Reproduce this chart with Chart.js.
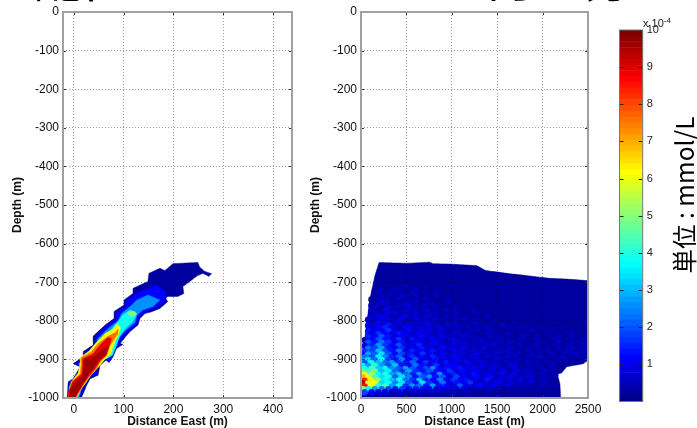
<!DOCTYPE html>
<html>
<head>
<meta charset="utf-8">
<script src="https://cdn.jsdelivr.net/npm/chart.js@4"></script>
<style>
  html, body { margin: 0; padding: 0; background: #fff; width: 697px; height: 428px; overflow: hidden; }
  canvas { position: absolute; top: 0; filter: blur(0.4px); }
  #title { position: absolute; left: 33px; top: -50px; font: 50px/50px "Noto Sans CJK JP"; white-space: nowrap; color: #000; }
  #unit { position: absolute; left: 683px; top: 195px; font: 24.5px "Noto Sans CJK JP"; white-space: nowrap; color: #000;
          transform: translate(-50%, -50%) rotate(-90deg); }
  #exponent { position: absolute; left: 643px; top: 17px; font: 11px "Liberation Sans"; color: #222; white-space: nowrap; }
  #exponent sup { font-size: 8px; vertical-align: 4px; line-height: 0; }
</style>
</head>
<body>
<div id="title">配置するとどうなり何か分かるか</div>
<canvas id="leftChart" width="300" height="428" style="left:0"></canvas>
<canvas id="rightChart" width="305" height="428" style="left:298px"></canvas>
<canvas id="barChart" width="70" height="428" style="left:600px"></canvas>
<div id="exponent">x 10<sup>-4</sup></div>
<div id="unit">単位 : mmol/L</div>

<script>
// tick labels
const depthTicks = [0, -100, -200, -300, -400, -500, -600, -700, -800, -900, -1000];
const leftDistanceTicks = [0, 100, 200, 300, 400];
const rightDistanceTicks = [0, 500, 1000, 1500, 2000, 2500];
const colorbarTicks = [1, 2, 3, 4, 5, 6, 7, 8, 9, 10];

// jet colormap, 64 steps, as in the colorbar
const jetColors = [
  '#00008F','#00009F','#0000AF','#0000BF','#0000CF','#0000DF','#0000EF','#0000FF',
  '#0010FF','#0020FF','#0030FF','#0040FF','#0050FF','#0060FF','#0070FF','#0080FF',
  '#008FFF','#009FFF','#00AFFF','#00BFFF','#00CFFF','#00DFFF','#00EFFF','#00FFFF',
  '#10FFEF','#20FFDF','#30FFCF','#40FFBF','#50FFAF','#60FF9F','#70FF8F','#80FF80',
  '#8FFF70','#9FFF60','#AFFF50','#BFFF40','#CFFF30','#DFFF20','#EFFF10','#FFFF00',
  '#FFEF00','#FFDF00','#FFCF00','#FFBF00','#FFAF00','#FF9F00','#FF8F00','#FF8000',
  '#FF7000','#FF6000','#FF5000','#FF4000','#FF3000','#FF2000','#FF1000','#FF0000',
  '#EF0000','#DF0000','#CF0000','#BF0000','#AF0000','#9F0000','#8F0000','#800000'
];
const colorbarEdges = [
  0, 0.16, 0.31, 0.47, 0.63, 0.78, 0.94, 1.09, 1.25, 1.41, 1.56, 1.72, 1.88, 2.03, 2.19, 2.34,
  2.5, 2.66, 2.81, 2.97, 3.13, 3.28, 3.44, 3.59, 3.75, 3.91, 4.06, 4.22, 4.38, 4.53, 4.69, 4.84,
  5, 5.16, 5.31, 5.47, 5.63, 5.78, 5.94, 6.09, 6.25, 6.41, 6.56, 6.72, 6.88, 7.03, 7.19, 7.34,
  7.5, 7.66, 7.81, 7.97, 8.13, 8.28, 8.44, 8.59, 8.75, 8.91, 9.06, 9.22, 9.38, 9.53, 9.69, 9.84, 10
];

// left panel: contour outlines [distance, depth], outermost first
const leftLevels = [0.2, 0.7, 1.2, 2.5, 3.8, 5, 6.2, 7.5, 9, 9.6];
const leftOutline = [[199,-652],[249,-649],[253,-661],[263,-672],[277,-678],[271,-685],[259,-677],[246,-685],[233,-698],[219,-711],[221,-729],[209,-737],[189,-737],[183,-742],[189,-750],[173,-768],[153,-778],[143,-781],[133,-794],[129,-811],[113,-828],[103,-843],[93,-859],[99,-861],[86,-872],[79,-893],[71,-908],[65,-902],[53,-915],[49,-941],[33,-950],[26,-967],[19,-989],[15,-1000],[-13,-1000],[-11,-958],[-1,-950],[13,-919],[-1,-911],[19,-893],[19,-880],[39,-863],[39,-840],[63,-811],[81,-794],[81,-776],[101,-759],[101,-746],[119,-729],[119,-716],[149,-698],[151,-677],[173,-664],[183,-670]];
const leftPatch = [[153,-707],[173,-710],[179,-724],[166,-733],[153,-724]];
const leftBlue = [[166,-707],[183,-724],[186,-746],[166,-765],[146,-776],[131,-789],[127,-808],[109,-827],[99,-841],[89,-859],[94,-861],[83,-870],[76,-892],[71,-904],[65,-898],[49,-911],[46,-937],[31,-945],[23,-967],[15,-989],[11,-1000],[-11,-1000],[-9,-963],[1,-954],[14,-919],[5,-911],[23,-895],[23,-883],[43,-867],[43,-843],[66,-814],[83,-798],[84,-781],[103,-763],[105,-748],[123,-733],[133,-724],[153,-716]];
const leftAzure = [[149,-733],[173,-746],[159,-763],[139,-772],[127,-785],[123,-805],[105,-824],[94,-840],[85,-857],[79,-867],[73,-889],[67,-898],[59,-895],[46,-906],[41,-932],[27,-944],[18,-967],[13,-989],[9,-1000],[-10,-1000],[-7,-967],[3,-956],[17,-919],[9,-912],[27,-895],[27,-886],[47,-869],[47,-848],[69,-820],[89,-800],[96,-781],[113,-763],[127,-746]];
const leftCyan = [[113,-772],[127,-781],[119,-802],[101,-824],[91,-843],[86,-863],[78,-889],[70,-895],[53,-904],[43,-930],[26,-944],[16,-967],[11,-990],[7,-1000],[-10,-1000],[-9,-971],[-1,-958],[14,-928],[16,-909],[31,-892],[36,-878],[53,-866],[56,-846],[76,-822],[89,-802],[98,-785]];
const leftSpot = [[113,-775],[123,-776],[125,-785],[116,-788],[109,-782]];
const leftYellow = [[86,-808],[94,-817],[91,-833],[81,-859],[74,-886],[61,-902],[49,-921],[36,-938],[23,-963],[13,-980],[6,-1000],[-10,-1000],[-9,-984],[-5,-958],[9,-935],[13,-909],[13,-895],[31,-878],[45,-857],[63,-833],[79,-822]];
const leftOrange = [[89,-822],[89,-833],[81,-848],[71,-869],[67,-889],[54,-904],[45,-926],[33,-942],[19,-967],[9,-989],[5,-1000],[-10,-1000],[-10,-984],[-3,-956],[13,-937],[15,-911],[15,-895],[36,-880],[49,-859],[69,-840],[83,-831]];
const leftRed = [[69,-843],[76,-846],[71,-867],[65,-889],[53,-904],[42,-925],[31,-942],[17,-968],[7,-990],[3,-1000],[-10,-1000],[-10,-984],[-2,-958],[16,-938],[18,-912],[18,-898],[39,-886],[53,-863],[63,-850]];
const leftDarkRed = [[59,-874],[69,-869],[63,-889],[49,-902],[39,-924],[29,-941],[16,-967],[6,-990],[1,-1000],[-9,-1000],[-9,-984],[1,-961],[18,-944],[21,-915],[21,-900],[43,-892]];

// right panel: plume outline [distance, depth]
const rightOutline = [[199,-649],[500,-651],[757,-648],[794,-652],[978,-653],[1272,-657],[1375,-670],[1603,-677],[1860,-684],[2081,-690],[2265,-692],[2500,-696],[2500,-902],[2449,-911],[2265,-919],[2210,-935],[2162,-938],[2191,-963],[2199,-1000],[0,-1000],[0,-919],[40,-850],[96,-746],[151,-685]];
const rightBaseLevel = 0.2;

// right panel: concentration read per spot, in units of 1e-5, 0 or missing = nothing above the base
// even rows sit on rightDistancesA, odd rows on rightDistancesB
const rightDistancesA = [40,115,190,265,340,415,490,565,640,715,790,865,940,1015,1090,1165,1240,1315,1390,1465,1540,1615,1690,1765,1840,1915,1990,2065,2140,2215,2290,2365,2440];
const rightDistancesB = [20,78,152,228,302,378,452,528,602,678,752,828,902,978,1052,1128,1202,1278,1352,1428,1502,1578,1652,1728,1802,1878,1952,2028,2102,2178,2252,2328,2402];
const rightDepths = [-715,-722,-730,-737,-745,-752,-760,-767,-775,-782,-790,-797,-805,-812,-820,-827,-835,-842,-850,-857,-865,-872,-880,-887,-895,-902,-910,-917,-925,-932,-940,-947,-955,-962,-970,-977,-985];
const rightValues = [
  [0,0,0,3,4,3,5,3,3,4,3,0,3,0,3],
  [0,0,3,5,3,6,4,3,5,3,3,4,0,3],
  [0,0,5,3,6,4,3,6,3,4,3,0,3,3,0,3],
  [0,0,3,6,5,3,5,4,6,3,3,5,3,0,3],
  [0,3,6,4,3,7,5,3,4,5,3,3,4,3,0,3,0,3],
  [0,0,3,7,5,4,3,6,5,3,4,3,3,5,3,0,3],
  [0,4,7,5,3,6,8,4,3,5,6,3,4,3,3,3,0,3,0,3],
  [0,0,5,3,8,5,4,7,5,6,3,5,3,3,4,3,3,0,3],
  [0,5,3,8,6,4,7,5,3,7,4,3,6,4,3,3,5,3,0,3,3],
  [0,0,6,5,9,7,4,6,8,4,5,6,3,3,5,3,3,4,3,0,3,0,3],
  [0,5,9,7,4,6,9,5,4,7,5,3,6,5,3,4,3,3,5,3,3,3,0,3,0,3],
  [0,8,6,10,7,5,8,6,9,5,4,7,4,3,6,5,3,4,3,3,4,3,3,0,3,3,0,3],
  [0,6,11,8,6,10,6,5,7,8,5,4,6,5,3,4,6,3,3,5,3,3,4,3,3,0,3,3,0,3,0,3],
  [0,10,7,9,13,7,5,9,6,5,8,6,3,5,7,4,3,5,4,3,3,5,3,3,4,3,3,0,3,3,3,0,3],
  [0,7,12,15,8,6,11,7,9,6,5,8,6,4,5,6,3,4,6,3,4,3,3,5,3,3,4,3,3,4,3,3,3],
  [0,13,9,10,16,9,7,12,6,8,10,5,7,4,6,3,6,5,3,5,4,3,4,3,3,5,3,3,4,3,3,4,3],
  [0,9,16,12,8,14,10,6,10,7,6,9,4,7,5,5,4,3,6,4,3,5,3,4,3,3,3,5,3,3,4,3,3],
  [0,15,11,19,13,8,12,9,7,11,8,5,8,6,4,7,5,4,3,5,6,3,4,3,5,3,4,3,3,4,3,5,3],
  [5,11,20,14,10,16,9,13,8,6,10,7,5,8,6,4,6,7,4,3,5,4,3,5,3,4,3,3,5,3,4,3,5],
  [0,19,14,22,16,10,14,7,11,9,7,11,6,5,9,5,4,6,5,4,6,3,5,4,3,3,5,4,3,5,3,4,4],
  [9,15,25,17,11,19,12,8,15,7,10,8,6,9,5,7,6,4,5,7,4,5,3,5,4,5,3,3,4,3,5,3,6],
  [0,23,18,28,14,12,17,10,9,13,8,6,11,7,5,9,4,6,8,4,5,3,6,4,3,4,5,3,3,5,4,6,4],
  [16,18,30,20,13,22,10,15,11,8,14,9,6,10,8,5,7,6,4,6,5,7,3,4,6,3,4,5,3,4,6,3,5],
  [14,28,21,33,19,12,18,13,8,16,10,7,12,6,9,7,5,8,5,4,7,4,6,5,3,5,4,3,6,3,4,5,4],
  [22,20,35,24,15,21,11,16,12,9,15,8,7,11,8,6,9,4,7,6,4,6,5,3,5,4,6,3,4,5,3,4,4],
  [25,33,23,38,18,14,24,12,19,10,8,13,10,6,12,7,5,9,6,4,8,5,4,6,4,3,5,4,3,4,5],
  [20,38,30,22,28,17,13,21,10,17,12,8,14,9,7,11,6,8,5,7,4,6,5,3,6,4,3,5,4,3],
  [35,28,42,27,20,30,14,11,23,13,9,16,7,12,10,6,9,5,8,5,7,4,7,5,3,5,4,3,5],
  [40,44,32,36,26,20,27,20,14,18,24,12,13,9,14,8,10,7,5,9,5,6,8,4,6,3,5,4,3],
  [46,42,48,30,35,22,17,28,17,13,20,14,10,17,8,12,7,10,6,8,5,9,4,7,5,6,3,5,4],
  [60,52,36,40,27,32,23,15,26,16,12,26,11,15,9,9,14,7,9,5,10,6,8,4,7,4,6,3,4],
  [70,60,44,33,38,21,33,24,14,20,26,13,20,9,18,10,7,12,7,11,5,7,9,6,5,7,3,5,4],
  [84,64,50,36,31,38,22,17,31,15,12,24,10,16,11,14,8,7,13,6,9,7,5,8,6,4,6,4,3],
  [94,58,62,34,38,24,33,19,14,34,17,11,22,9,13,8,17,7,9,5,12,5,7,6,4,7,3,5,3],
  [85,62,42,44,27,36,17,26,22,13,28,14,12,8,19,9,7,11,7,10,5,8,4,6,5,3,5,3,4],
  [50,36,28,22,18,14,17,11,14,10,11,8,9,6,7,8,5,6,4,5,5,3,4,4,3,3,4,3,3],
  [18,12,8,9,6,7,5,5,6,4,5,4,4,5,3,4,3,3,4,3,3,3,3,3,3,3,3,3]
];

const FONT = 'Liberation Sans';
Chart.defaults.font.family = FONT;
Chart.defaults.animation = false;

function colorFor(level) {
  const idx = Math.min(jetColors.length - 1, Math.floor(level / 10 * jetColors.length));
  return jetColors[idx];
}

// closed filled contour. tension is just above 0 so the line keeps every
// vertex, the fast path merges points that share an x pixel
function polygon(points, level) {
  const color = colorFor(level);
  return {
    data: points.concat([points[0]]).map(([x, y]) => ({ x, y })),
    showLine: true,
    fill: 'shape',
    backgroundColor: color,
    borderColor: color,
    borderWidth: 0.5,
    pointRadius: 0,
    tension: 0.001
  };
}

// MATLAB style box: grey frame and inward ticks on all four sides
const boxPlugin = {
  id: 'box',
  afterDraw(chart) {
    const { ctx, chartArea: a, scales } = chart;
    ctx.save();
    ctx.strokeStyle = '#333';
    ctx.lineWidth = 1;
    ctx.beginPath();
    scales.x.ticks.forEach(t => {
      const p = Math.round(scales.x.getPixelForValue(t.value)) + 0.5;
      ctx.moveTo(p, a.top); ctx.lineTo(p, a.top + 3);
      ctx.moveTo(p, a.bottom); ctx.lineTo(p, a.bottom - 3);
    });
    scales.y.ticks.forEach(t => {
      const p = Math.round(scales.y.getPixelForValue(t.value)) + 0.5;
      ctx.moveTo(a.left, p); ctx.lineTo(a.left + 3, p);
      ctx.moveTo(a.right, p); ctx.lineTo(a.right - 3, p);
    });
    ctx.stroke();
    ctx.strokeStyle = '#a0a0a0';
    ctx.lineWidth = 2;
    ctx.strokeRect(a.left, a.top, a.right - a.left, a.bottom - a.top);
    ctx.restore();
  }
};

function panelOptions(xMin, xMax, xTicks, rightPad, gridZ) {
  // translucent so the dots still show as darker marks over the navy plume
  const grid = { color: 'rgba(0,0,0,0.4)', drawTicks: false, lineWidth: 1, z: gridZ };
  const border = { display: false, dash: [1, 2] };
  const plain = value => String(value);
  return {
    responsive: false,
    layout: { padding: { top: 12, right: rightPad, left: 0, bottom: 0 } },
    plugins: { legend: { display: false }, tooltip: { enabled: false } },
    scales: {
      x: {
        type: 'linear', min: xMin, max: xMax, grid, border,
        // keep the plot box fixed, no extra room for the last tick label
        afterFit(axis) { axis.height = 30; axis.paddingLeft = 0; axis.paddingRight = 0; },
        afterBuildTicks(axis) { axis.ticks = xTicks.map(value => ({ value })); },
        ticks: { color: '#111', font: { size: 12 }, padding: 4, maxRotation: 0, autoSkip: false, callback: plain },
        title: { display: true, text: 'Distance East (m)', color: '#111', font: { size: 12, weight: 'bold', lineHeight: 1 }, padding: 0 }
      },
      y: {
        min: -1000, max: 0, grid, border,
        afterFit(axis) { axis.width = 63; axis.paddingTop = 0; axis.paddingBottom = 0; },
        afterBuildTicks(axis) { axis.ticks = depthTicks.map(value => ({ value })); },
        ticks: { color: '#111', font: { size: 12 }, padding: 4, autoSkip: false, callback: plain },
        title: { display: true, text: 'Depth (m)', color: '#111', font: { size: 12, weight: 'bold' }, padding: { top: 10, bottom: 0 } }
      }
    }
  };
}

// left panel, datasets are painted last to first so innermost goes first
const leftLayers = [leftOutline, leftPatch, leftBlue, leftAzure, leftCyan, leftSpot, leftYellow, leftOrange, leftRed, leftDarkRed];
new Chart(document.getElementById('leftChart'), {
  type: 'scatter',
  data: { datasets: leftLayers.map((pts, i) => polygon(pts, leftLevels[i])).reverse() },
  options: panelOptions(-21.5, 438, leftDistanceTicks, 8, 0),
  plugins: [boxPlugin]
});

// right panel speckle, painted row by row
const rightSpots = [];
rightValues.forEach((row, r) => row.forEach((v, c) => {
  const xs = r % 2 ? rightDistancesB : rightDistancesA;
  if (v > 0) rightSpots.push({ x: xs[c], y: rightDepths[r], v });
}));

new Chart(document.getElementById('rightChart'), {
  type: 'scatter',
  data: {
    datasets: [
      {
        data: rightSpots,
        pointStyle: 'circle',
        pointRadius: 3.2,
        pointBorderWidth: 0,
        pointBackgroundColor: rightSpots.map(p => colorFor(p.v / 10))
      },
      polygon(rightOutline, rightBaseLevel)
    ]
  },
  options: panelOptions(0, 2500, rightDistanceTicks, 15, 1),
  plugins: [boxPlugin]
});

// colorbar as floating bars
new Chart(document.getElementById('barChart'), {
  type: 'bar',
  data: {
    labels: [''],
    datasets: jetColors.map((color, i) => ({
      data: [[colorbarEdges[i], colorbarEdges[i + 1]]],
      backgroundColor: color,
      borderWidth: 0,
      barPercentage: 1,
      categoryPercentage: 1,
      grouped: false
    }))
  },
  options: {
    responsive: false,
    layout: { padding: { top: 30, left: 19.5, right: 0, bottom: 26.5 } },
    plugins: { legend: { display: false }, tooltip: { enabled: false } },
    scales: {
      x: { display: false, grid: { display: false } },
      y: {
        position: 'right', min: 0, max: 10,
        grid: { display: false, drawTicks: false },
        border: { display: false },
        afterFit(axis) { axis.width = 27.3; },
        afterBuildTicks(axis) { axis.ticks = colorbarTicks.map(value => ({ value })); },
        ticks: { color: '#222', font: { size: 11 }, padding: 4, autoSkip: false }
      }
    }
  },
  plugins: [{
    id: 'barBox',
    afterDraw(chart) {
      const { ctx, chartArea: a, scales } = chart;
      ctx.save();
      ctx.strokeStyle = '#222';
      ctx.lineWidth = 1;
      ctx.beginPath();
      scales.y.ticks.forEach(t => {
        const p = Math.round(scales.y.getPixelForValue(t.value)) + 0.5;
        ctx.moveTo(a.left, p); ctx.lineTo(a.left + 4, p);
        ctx.moveTo(a.right, p); ctx.lineTo(a.right - 4, p);
      });
      ctx.stroke();
      ctx.strokeStyle = '#777';
      ctx.strokeRect(a.left, a.top, a.right - a.left, a.bottom - a.top);
      ctx.restore();
    }
  }]
});
</script>
</body>
</html>
